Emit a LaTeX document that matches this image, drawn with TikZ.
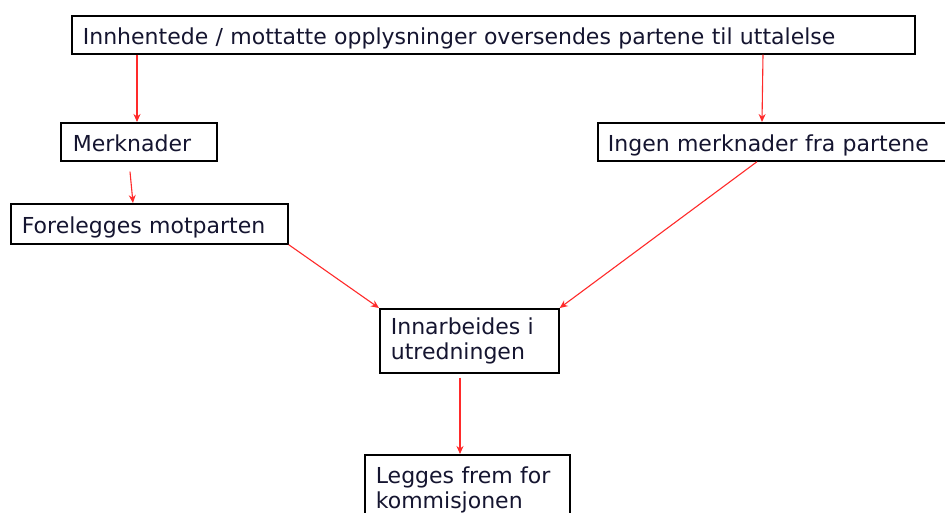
\documentclass[tikz,border=0pt]{standalone}
\usepackage{fontspec}
\setmainfont{DejaVu Sans}
\usetikzlibrary{arrows.meta,calc}
\definecolor{txt}{HTML}{151530}
\definecolor{arr}{HTML}{FF2A2A}
\begin{document}
\begin{tikzpicture}[x=1pt,y=-1pt,
  box/.style={draw=black,line width=1.7pt,anchor=north west,align=left,
    font=\fontsize{22}{25}\selectfont,text=txt,inner ysep=0pt},
  oneline/.style={text height=20pt,text depth=0pt},
  conn/.style={draw=arr,line width=1.1pt,-{Stealth[length=8pt,width=7pt]}}]
\clip (0,0) rectangle (945,513);
\fill[white] (0,0) rectangle (945,513);
\node[box,oneline,inner xsep=11pt,text width=821pt,minimum height=38pt] (top) at (71,15)
  {Innhentede / mottatte opplysninger oversendes partene til uttalelse};
\node[box,oneline,inner xsep=12pt,text width=132pt,minimum height=38pt] (merk) at (60,122)
  {Merknader};
\node[box,oneline,inner xsep=11pt,text width=255pt,minimum height=40pt] (fore) at (10,203)
  {Forelegges motparten};
\node[box,oneline,inner xsep=10pt,text width=345pt,minimum height=38pt] (ingen) at (597,122)
  {Ingen merknader fra partene};
\node[box,inner xsep=11pt,text width=157pt,minimum height=64pt] (innar) at (379,308)
  {Innarbeides i\\utredningen};
\node[box,inner xsep=11pt,text width=183pt,minimum height=70pt] (legg) at (364,454)
  {Legges frem for\\kommisjonen};
\draw[conn] ($(top.south west)+(66,0)$) -- ($(merk.north west)+(77,0)$);
\draw[conn] ($(top.south west)+(692,0)$) -- ($(ingen.north west)+(165,0)$);
\draw[conn] ($(merk.south west)+(70,10)$) -- ($(fore.north west)+(123,0)$);
\draw[conn] (fore.south east) -- (innar.north west);
\draw[conn] ($(ingen.south west)+(160,0)$) -- (innar.north east);
\draw[conn] ($(innar.south west)+(81,4)$) -- ($(legg.north west)+(96,0)$);
\end{tikzpicture}
\end{document}
